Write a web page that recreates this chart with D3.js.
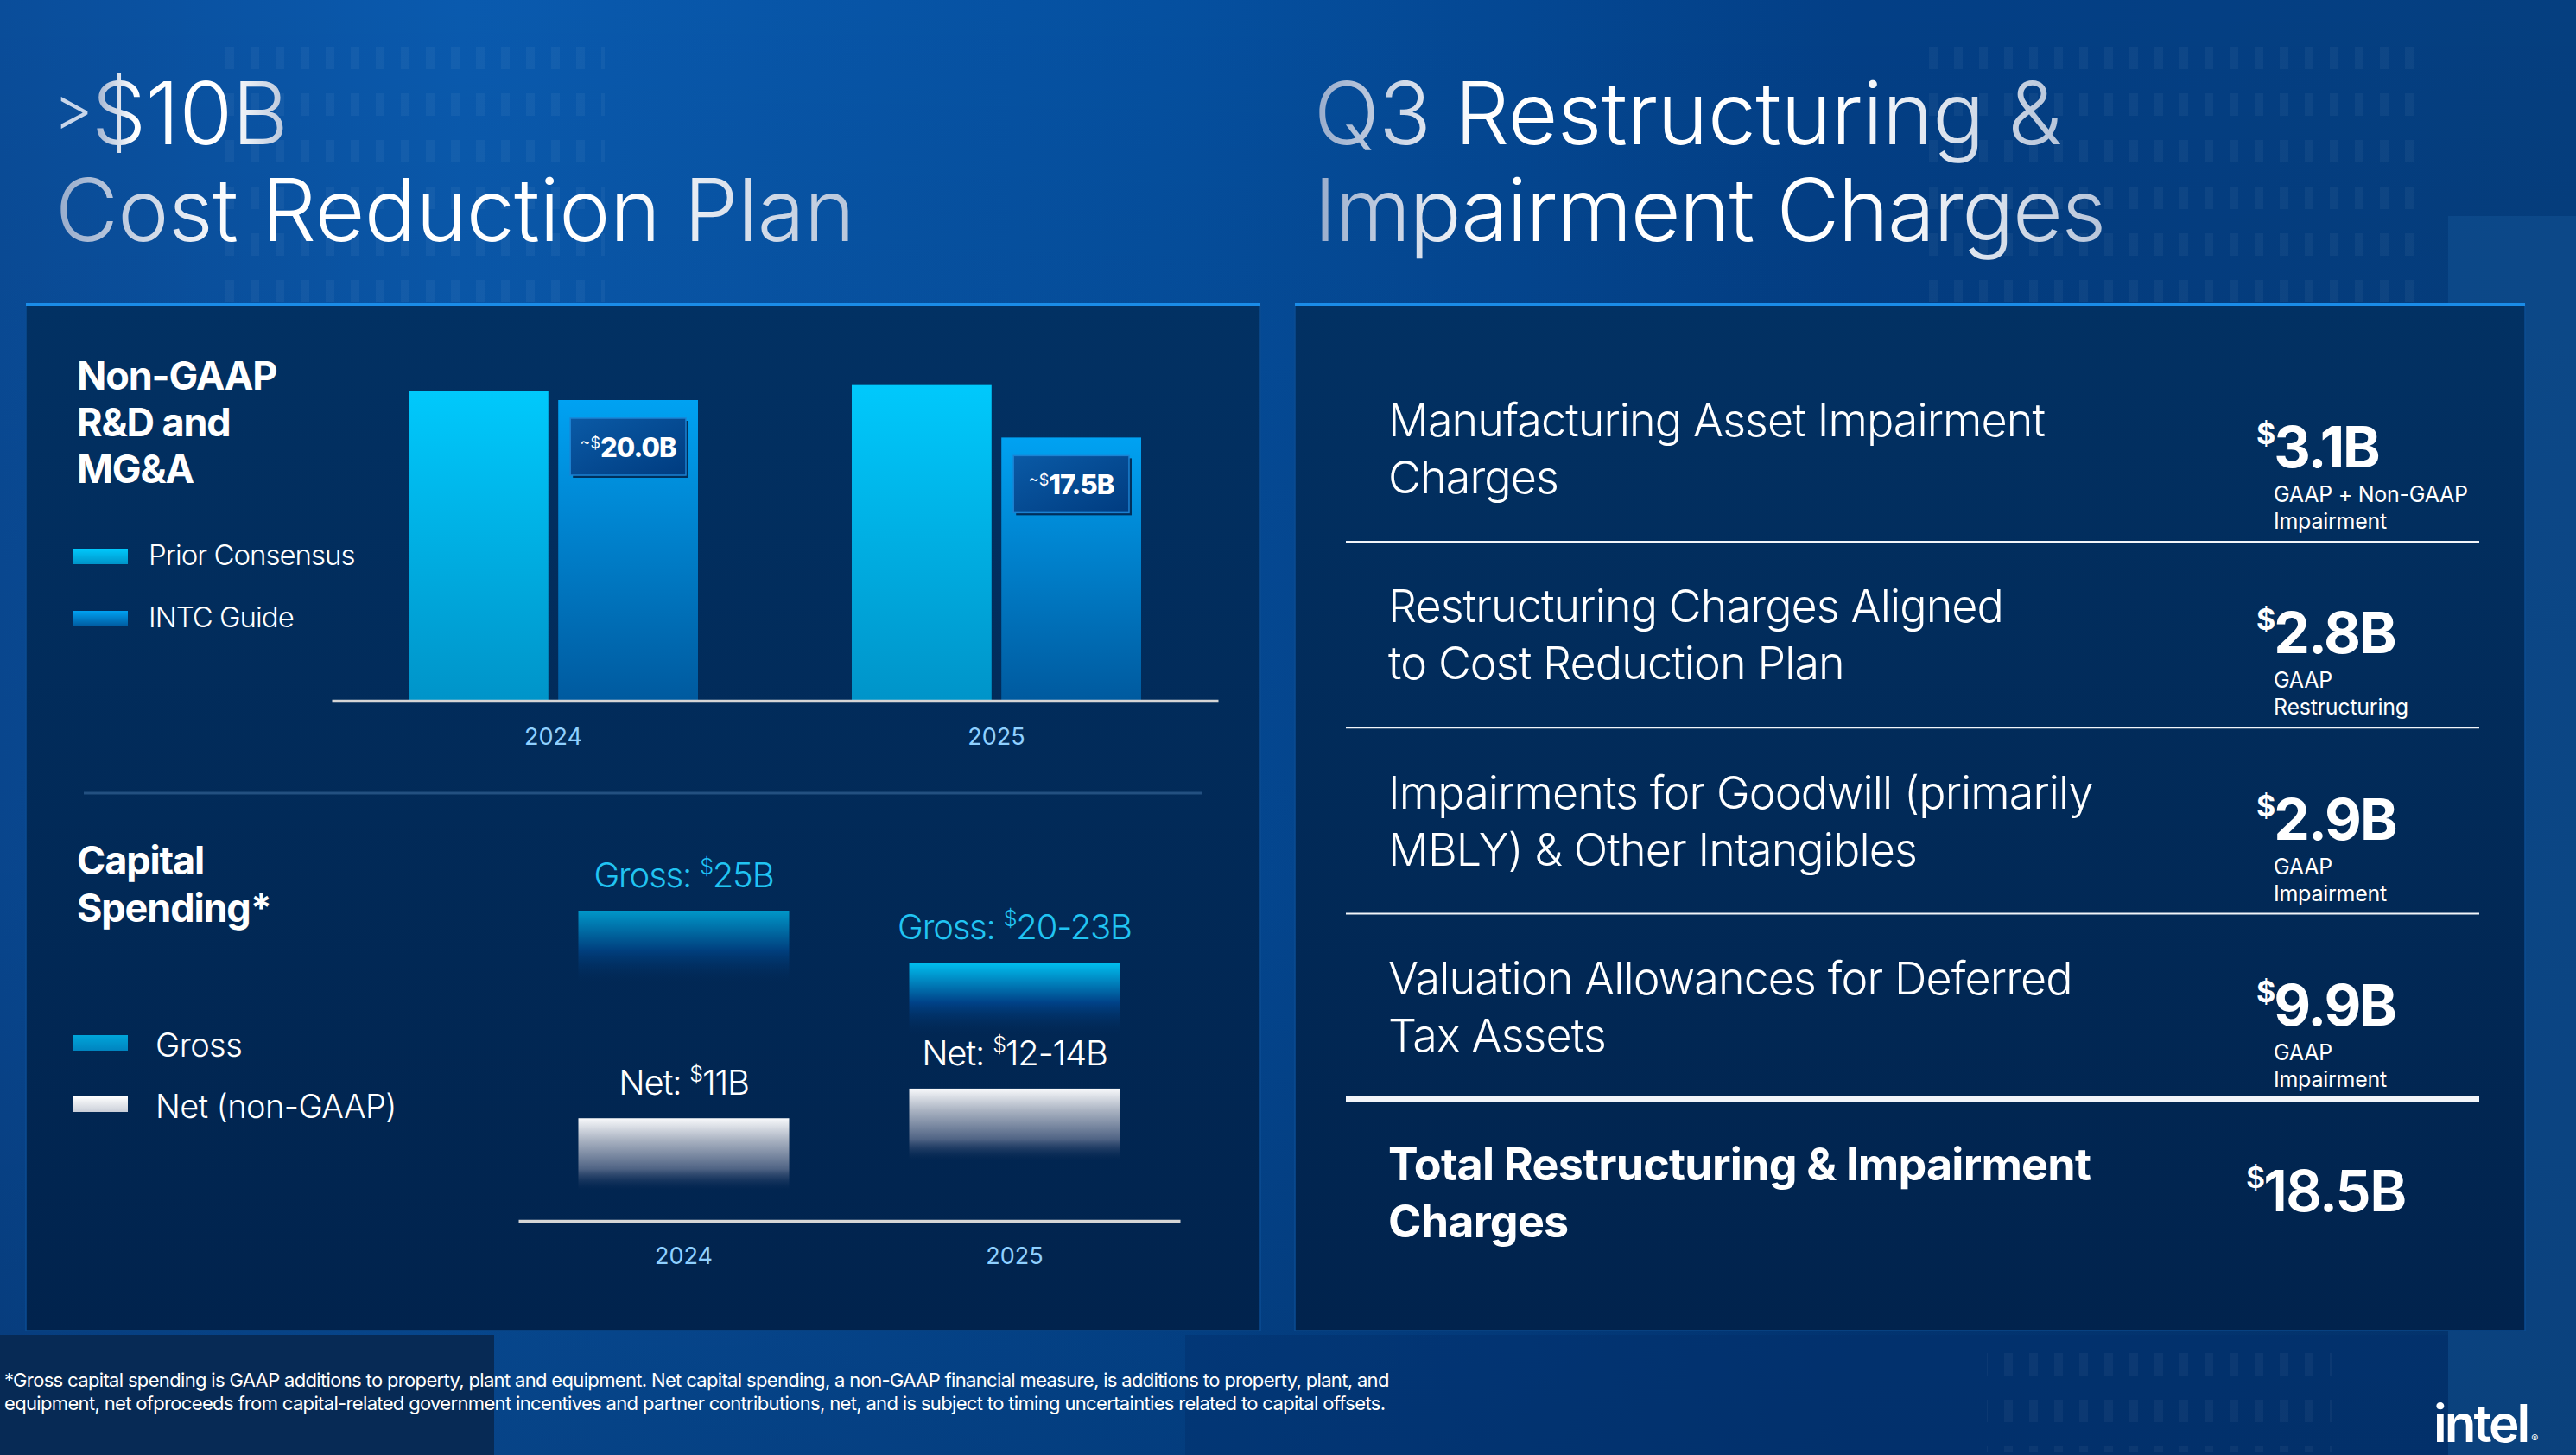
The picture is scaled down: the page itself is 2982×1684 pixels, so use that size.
<!DOCTYPE html>
<html>
<head>
<meta charset="utf-8">
<script src="https://cdn.jsdelivr.net/npm/d3@7"></script>
<style>
body{margin:0;background:#003a7a;overflow:hidden}
svg{display:block}
text{font-family:Inter,'Noto Sans',sans-serif}
</style>
</head>
<body>
<svg id="slide"></svg>
<script>
// ---- data ----
const rdYears = ['2024', '2025'];
const rdSeries = ['Prior Consensus', 'INTC Guide'];
const rdPrior = [20.6, 21.0];          // not labelled
const rdGuide = [20.0, 17.5];
const rdGuideLabels = ['20.0B', '17.5B'];

const capYears = ['2024', '2025'];
const capSeries = ['Gross', 'Net (non-GAAP)'];
const capGross = [25, 21.5];           // 2025 = midpoint of 20-23
const capNet = [11, 13];               // 2025 = midpoint of 12-14
const capGrossLabels = ['25B', '20-23B'];
const capNetLabels = ['11B', '12-14B'];

const chargeNames = [
  ['Manufacturing Asset Impairment', 'Charges'],
  ['Restructuring Charges Aligned', 'to Cost Reduction Plan'],
  ['Impairments for Goodwill (primarily', 'MBLY) & Other Intangibles'],
  ['Valuation Allowances for Deferred', 'Tax Assets']
];
const chargeValues = ['3.1B', '2.8B', '2.9B', '9.9B'];
const chargeNotes = [
  ['GAAP + Non-GAAP', 'Impairment'],
  ['GAAP', 'Restructuring'],
  ['GAAP', 'Impairment'],
  ['GAAP', 'Impairment']
];
const totalName = ['Total Restructuring & Impairment', 'Charges'];
const totalValue = '18.5B';

const footnote = [
  '*Gross capital spending is GAAP additions to property, plant and equipment. Net capital spending, a non-GAAP financial measure, is additions to property, plant, and',
  'equipment, net ofproceeds from capital-related government incentives and partner contributions, net, and is subject to timing uncertainties related to capital offsets.'
];

// ---- setup ----
const W = 2982, H = 1684;
const svg = d3.select('#slide').attr('width', W).attr('height', H);
const defs = svg.append('defs');

function grad(id, stops, x2 = 0, y2 = 1) {
  const g = defs.append('linearGradient').attr('id', id)
    .attr('x1', 0).attr('y1', 0).attr('x2', x2).attr('y2', y2);
  stops.forEach(s => g.append('stop').attr('offset', s[0]).attr('stop-color', s[1])
    .attr('stop-opacity', s[2] == null ? 1 : s[2]));
}
grad('bg', [[0, '#0a4d9a'], [0.18, '#0a5aae'], [0.45, '#0550a0'], [0.72, '#033f86'], [1, '#053f80']], 1, 0);
grad('bgShade', [[0, '#000', 0], [0.6, '#001a40', 0.15], [1, '#001a40', 0.35]]);
grad('panelL', [[0, '#023163'], [1, '#01234d']]);
grad('title', [[0, '#97abcb'], [0.22, '#ffffff'], [0.7, '#ffffff'], [1, '#b7c5da']], 1, 0);
grad('prior', [[0, '#00c9fc'], [1, '#0094c9']]);
grad('guide', [[0, '#00a2f2'], [1, '#005a9f']]);
grad('box', [[0, '#0a5aa6'], [1, '#003c80']], 1, 1);
grad('gross0', [[0, '#0097c9'], [0.55, '#003f7e'], [1, '#012a5a', 0]]);
grad('gross1', [[0, '#00c0f0'], [0.55, '#004288'], [1, '#012a5a', 0]]);
grad('net', [[0, '#f8f9fb'], [0.3, '#aab3c2'], [0.7, '#4f6384'], [1, '#0d2a55', 0]]);
grad('netKey', [[0, '#ffffff'], [1, '#c9ced8']]);
grad('grossKey', [[0, '#00a6da'], [1, '#0084bf']]);

const pat = defs.append('pattern').attr('id', 'dash').attr('patternUnits', 'userSpaceOnUse')
  .attr('width', 29).attr('height', 54);
pat.append('rect').attr('width', 10).attr('height', 26).attr('fill', '#fff');

// ---- background ----
svg.append('rect').attr('width', W).attr('height', H).attr('fill', 'url(#bg)');
svg.append('rect').attr('width', W).attr('height', H).attr('fill', 'url(#bgShade)');
svg.append('rect').attr('x', 2834).attr('y', 250).attr('width', 148).attr('height', H - 250)
  .attr('fill', '#1a5ea0').attr('opacity', 0.35);
svg.append('rect').attr('x', 0).attr('y', 1545).attr('width', 572).attr('height', 139).attr('fill', '#072a55');
svg.append('rect').attr('x', 1372).attr('y', 1545).attr('width', 1462).attr('height', 139)
  .attr('fill', '#032f6a').attr('opacity', 0.45);
[[250, 40, 450, 320], [2215, 40, 590, 330], [2300, 1300, 400, 380]].forEach(r =>
  svg.append('rect').attr('x', r[0]).attr('y', r[1]).attr('width', r[2]).attr('height', r[3])
    .attr('fill', 'url(#dash)').attr('opacity', 0.04));

// ---- titles ----
const title = svg.append('g').attr('font-weight', 300).attr('letter-spacing', '-0.56px').attr('fill', 'url(#title)');
title.append('text').attr('x', 62).attr('y', 150).attr('font-size', 70).attr('fill', '#c9d6ea').text('>');
title.append('text').attr('x', 106).attr('y', 167).attr('font-size', 100).text('$10B');
title.append('text').attr('x', 64).attr('y', 279).attr('font-size', 100).text('Cost Reduction Plan');
title.append('text').attr('x', 1521).attr('y', 167).attr('font-size', 100).text('Q3 Restructuring &');
title.append('text').attr('x', 1521).attr('y', 279).attr('font-size', 100).attr('letter-spacing', '-1.5px')
  .text('Impairment Charges');

// ---- panels ----
[[30, 1429], [1499, 1424]].forEach(p => {
  svg.append('rect').attr('x', p[0]).attr('y', 352).attr('width', p[1]).attr('height', 1188)
    .attr('fill', 'url(#panelL)').attr('stroke', '#0b4c92').attr('stroke-width', 1.5);
  svg.append('rect').attr('x', p[0]).attr('y', 351).attr('width', p[1]).attr('height', 3).attr('fill', '#1a8ce8');
});

// ---- Non-GAAP R&D and MG&A ----
const left = svg.append('g').attr('fill', '#fff');
left.append('text').attr('font-size', 45).attr('font-weight', 700).attr('letter-spacing', '-0.025em')
  .selectAll('tspan').data(['Non-GAAP', 'R&D and', 'MG&A']).join('tspan')
  .attr('x', 89).attr('y', (d, i) => 451 + i * 54).text(d => d);

const rdKey = left.append('g').selectAll('g').data(rdSeries).join('g')
  .attr('transform', (d, i) => `translate(84,${635 + i * 72})`);
rdKey.append('rect').attr('width', 64).attr('height', 18).attr('fill', (d, i) => i ? 'url(#guide)' : 'url(#prior)');
rdKey.append('text').attr('x', 88).attr('y', 19).attr('font-size', 33).attr('font-weight', 300)
  .attr('letter-spacing', '-0.03em').text(d => d);

const rdX0 = d3.scaleBand().domain(rdYears).range([384, 1410]);
const rdX1 = d3.scaleBand().domain(rdSeries).range([89, 424]).paddingInner(0.066);
const rdY = d3.scaleLinear().domain([0, 20]).range([810, 463]);

const rdData = rdYears.map((y, i) => ({
  year: y,
  bars: [
    { s: rdSeries[0], v: rdPrior[i] },
    { s: rdSeries[1], v: rdGuide[i], label: rdGuideLabels[i] }
  ]
}));

const rdGroups = svg.append('g').selectAll('g').data(rdData).join('g')
  .attr('transform', d => `translate(${rdX0(d.year)},0)`);
rdGroups.selectAll('rect.bar').data(d => d.bars).join('rect').attr('class', 'bar')
  .attr('x', d => rdX1(d.s)).attr('width', rdX1.bandwidth())
  .attr('y', d => rdY(d.v)).attr('height', d => rdY(0) - rdY(d.v))
  .attr('fill', (d, i) => i ? 'url(#guide)' : 'url(#prior)');

const boxes = rdGroups.selectAll('g.box').data(d => d.bars.filter(b => b.label)).join('g').attr('class', 'box')
  .attr('transform', d => `translate(${rdX1(d.s) + 14},${rdY(d.v) + 21})`);
boxes.append('rect').attr('x', 3).attr('y', 3).attr('width', rdX1.bandwidth() - 28).attr('height', 66)
  .attr('fill', '#00163a').attr('opacity', 0.8);
boxes.append('rect').attr('width', rdX1.bandwidth() - 28).attr('height', 66)
  .attr('fill', 'url(#box)').attr('stroke', '#1b82d2').attr('stroke-width', 1.5);
const boxText = boxes.append('text').attr('x', (rdX1.bandwidth() - 28) / 2).attr('y', 45)
  .attr('text-anchor', 'middle').attr('fill', '#fff');
boxText.append('tspan').attr('font-size', 18).attr('dy', -10).text('~$');
boxText.append('tspan').attr('font-size', 31).attr('font-weight', 800).attr('letter-spacing', '-0.03em')
  .attr('dy', 10).text(d => d.label);

const rdAxis = svg.append('g').attr('transform', 'translate(0,811)')
  .call(d3.axisBottom(rdX0).tickSize(0).tickSizeOuter(0).tickPadding(32));
rdAxis.select('.domain').attr('stroke', '#d6d6d6').attr('stroke-width', 3.5);
rdAxis.selectAll('text').attr('font-size', 27).attr('fill', '#8fd0ff').attr('font-family', 'Inter');

// separator
svg.append('line').attr('x1', 97).attr('x2', 1392).attr('y1', 918).attr('y2', 918)
  .attr('stroke', '#3a6a9c').attr('stroke-width', 3).attr('opacity', 0.6);

// ---- Capital Spending ----
left.append('text').attr('font-size', 45).attr('font-weight', 700).attr('letter-spacing', '-0.025em')
  .selectAll('tspan').data(['Capital', 'Spending*']).join('tspan')
  .attr('x', 89).attr('y', (d, i) => 1012 + i * 55).text(d => d);

const capKey = left.append('g').selectAll('g').data(capSeries).join('g')
  .attr('transform', (d, i) => `translate(84,${1198 + i * 71})`);
capKey.append('rect').attr('width', 64).attr('height', 18).attr('fill', (d, i) => i ? 'url(#netKey)' : 'url(#grossKey)');
capKey.append('text').attr('x', 96).attr('y', 25).attr('font-size', 38).attr('font-weight', 300)
  .attr('letter-spacing', '-0.015em').text(d => d);

const capX = d3.scaleBand().domain(capYears).range([600, 1366]);
const capY = d3.scaleLinear().domain([0, 25]).range([1483, 1054]);
const capW = 244, capH = 84;

const capData = capYears.map((y, i) => ({ year: y, i, gross: capGross[i], net: capNet[i], gl: capGrossLabels[i], nl: capNetLabels[i] }));
const capG = svg.append('g').selectAll('g').data(capData).join('g')
  .attr('transform', d => `translate(${capX(d.year) + capX.bandwidth() / 2},0)`);
capG.append('rect').attr('x', -capW / 2).attr('width', capW)
  .attr('y', d => capY(d.gross)).attr('height', capH).attr('fill', d => `url(#gross${d.i})`);
capG.append('rect').attr('x', -capW / 2).attr('width', capW)
  .attr('y', d => capY(d.net)).attr('height', capH).attr('fill', 'url(#net)');

function capLabel(sel, pre, key, yKey, color) {
  const t = sel.append('text').attr('text-anchor', 'middle').attr('fill', color)
    .attr('font-size', 40).attr('font-weight', 300).attr('letter-spacing', '-0.03em')
    .attr('y', d => capY(d[yKey]) - 27);
  t.append('tspan').text(pre + ' ');
  t.append('tspan').attr('font-size', 25).attr('dy', -15).text('$');
  t.append('tspan').attr('dy', 15).text(d => d[key]);
}
capLabel(capG, 'Gross:', 'gl', 'gross', '#21c4f2');
capLabel(capG, 'Net:', 'nl', 'net', '#ffffff');

const capAxis = svg.append('g').attr('transform', 'translate(0,1413)')
  .call(d3.axisBottom(capX).tickSize(0).tickSizeOuter(0).tickPadding(31));
capAxis.select('.domain').attr('stroke', '#d6d6d6').attr('stroke-width', 3.5);
capAxis.selectAll('text').attr('font-size', 27).attr('fill', '#8fd0ff').attr('font-family', 'Inter');

// ---- Q3 charges table ----
const rowY = d3.scaleLinear().domain([0, 4]).range([505, 1366]);
const rows = chargeNames.map((n, i) => ({ name: n, value: chargeValues[i], note: chargeNotes[i], total: false }))
  .concat([{ name: totalName, value: totalValue, note: [], total: true }]);

const rowG = svg.append('g').attr('fill', '#fff').selectAll('g').data(rows).join('g')
  .attr('transform', (d, i) => `translate(0,${rowY(i)})`);
rowG.append('text').attr('font-size', 52).attr('font-weight', d => d.total ? 700 : 300)
  .attr('letter-spacing', d => d.total ? '-0.015em' : '-0.017em')
  .selectAll('tspan').data(d => d.name).join('tspan')
  .attr('x', 1607).attr('y', (d, i) => i * 66).text(d => d);

const val = rowG.append('text').attr('x', d => d.total ? 2600 : 2612).attr('y', 36)
  .attr('font-size', 66).attr('font-weight', d => d.total ? 600 : 700).attr('letter-spacing', '-0.03em');
val.append('tspan').attr('font-size', 34).attr('dy', -27).text('$');
val.append('tspan').attr('dy', 27).text(d => d.value);

rowG.append('text').attr('font-size', 25).attr('font-weight', 400).attr('letter-spacing', '-0.01em')
  .selectAll('tspan').data(d => d.note).join('tspan')
  .attr('x', 2632).attr('y', (d, i) => 76 + i * 31).text(d => d);

rowG.filter(d => !d.total).append('rect').attr('x', 1558).attr('width', 1312)
  .attr('y', (d, i) => i === 3 ? 118 : 121).attr('height', (d, i) => i === 3 ? 7 : 2).attr('fill', '#f2f5fa');

// ---- footnote and logo ----
svg.append('text').attr('fill', '#fff').attr('font-size', 22).attr('letter-spacing', '-0.03em')
  .selectAll('tspan').data(footnote).join('tspan')
  .attr('x', 5).attr('y', (d, i) => 1605 + i * 27).text(d => d);

const logo = svg.append('text').attr('x', 2817).attr('y', 1669).attr('fill', '#fff');
logo.append('tspan').attr('font-size', 60).attr('font-weight', 600).attr('letter-spacing', '-0.05em').text('intel');
logo.append('tspan').attr('font-size', 12).attr('dx', 4).text('®');
</script>
</body>
</html>
